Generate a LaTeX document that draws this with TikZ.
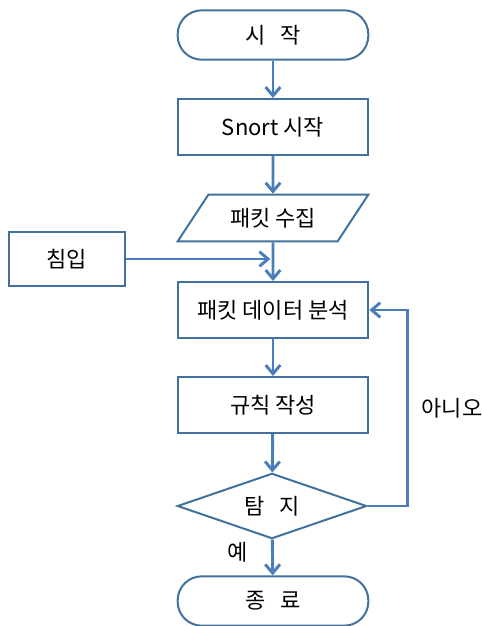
\documentclass[tikz,border=0pt]{standalone}
\usepackage{fontspec}
\setmainfont{Noto Sans CJK KR}
\usetikzlibrary{arrows.meta,shapes.geometric}
\definecolor{bdr}{HTML}{41719C}
\definecolor{arr}{HTML}{4A7EBB}

\begin{document}
\begin{tikzpicture}[x=0.75pt,y=-0.75pt,>={Straight Barb[length=6.5pt,width=11pt]},
    font=\fontsize{16.5}{19}\selectfont,
    box/.style={draw=bdr,line width=1.5pt,minimum width=143pt,minimum height=42pt},
    term/.style={box,rounded corners=18pt,minimum height=37pt},
    data/.style={draw=bdr,line width=1.5pt,trapezium,trapezium left angle=52,trapezium right angle=128,
      trapezium stretches=true,minimum width=143pt,minimum height=35pt},
    cond/.style={draw=bdr,line width=1.5pt,diamond,aspect=2.9,inner sep=0pt,minimum width=142pt,minimum height=49pt},
    flow/.style={->,draw=arr,line width=2.2pt}]
                \useasboundingbox (0,0) rectangle (482,626);
                \node[term] (start) at (273,35) {시\hspace{0.7em}작};
                \node[box] (snort) at (273,127) {Snort 시작};
                \node[data] (capture) at (273,218) {패킷 수집};
                \node[box,minimum width=87pt,minimum height=41pt] (intrude) at (67,259) {침입};
                \node[box] (analyze) at (273,310) {패킷 데이터 분석};
                \node[box] (rule) at (273,405) {규칙 작성};
                \node[cond] (detect) at (272,506) {탐\hspace{0.7em}지};
                \node[term] (finish) at (273,601) {종\hspace{0.7em}료};
                \draw[flow] (start) -- (snort);
                \draw[flow] (snort) -- (capture);
                \draw[flow] (capture) -- (analyze);
                \draw[flow,shorten >=2pt] (intrude.east) -- (intrude.east -| capture.south);
                \draw[flow] (analyze) -- (rule);
                \draw[flow] (rule) -- (detect);
                \draw[flow] (detect) -- node[left=14pt,pos=0.35] {예} (finish);
                \draw[flow] (detect.east) -- ++(40,0) |- node[pos=0.25,right=6pt] {아니오} (analyze.east);
            \end{tikzpicture}
\end{document}
